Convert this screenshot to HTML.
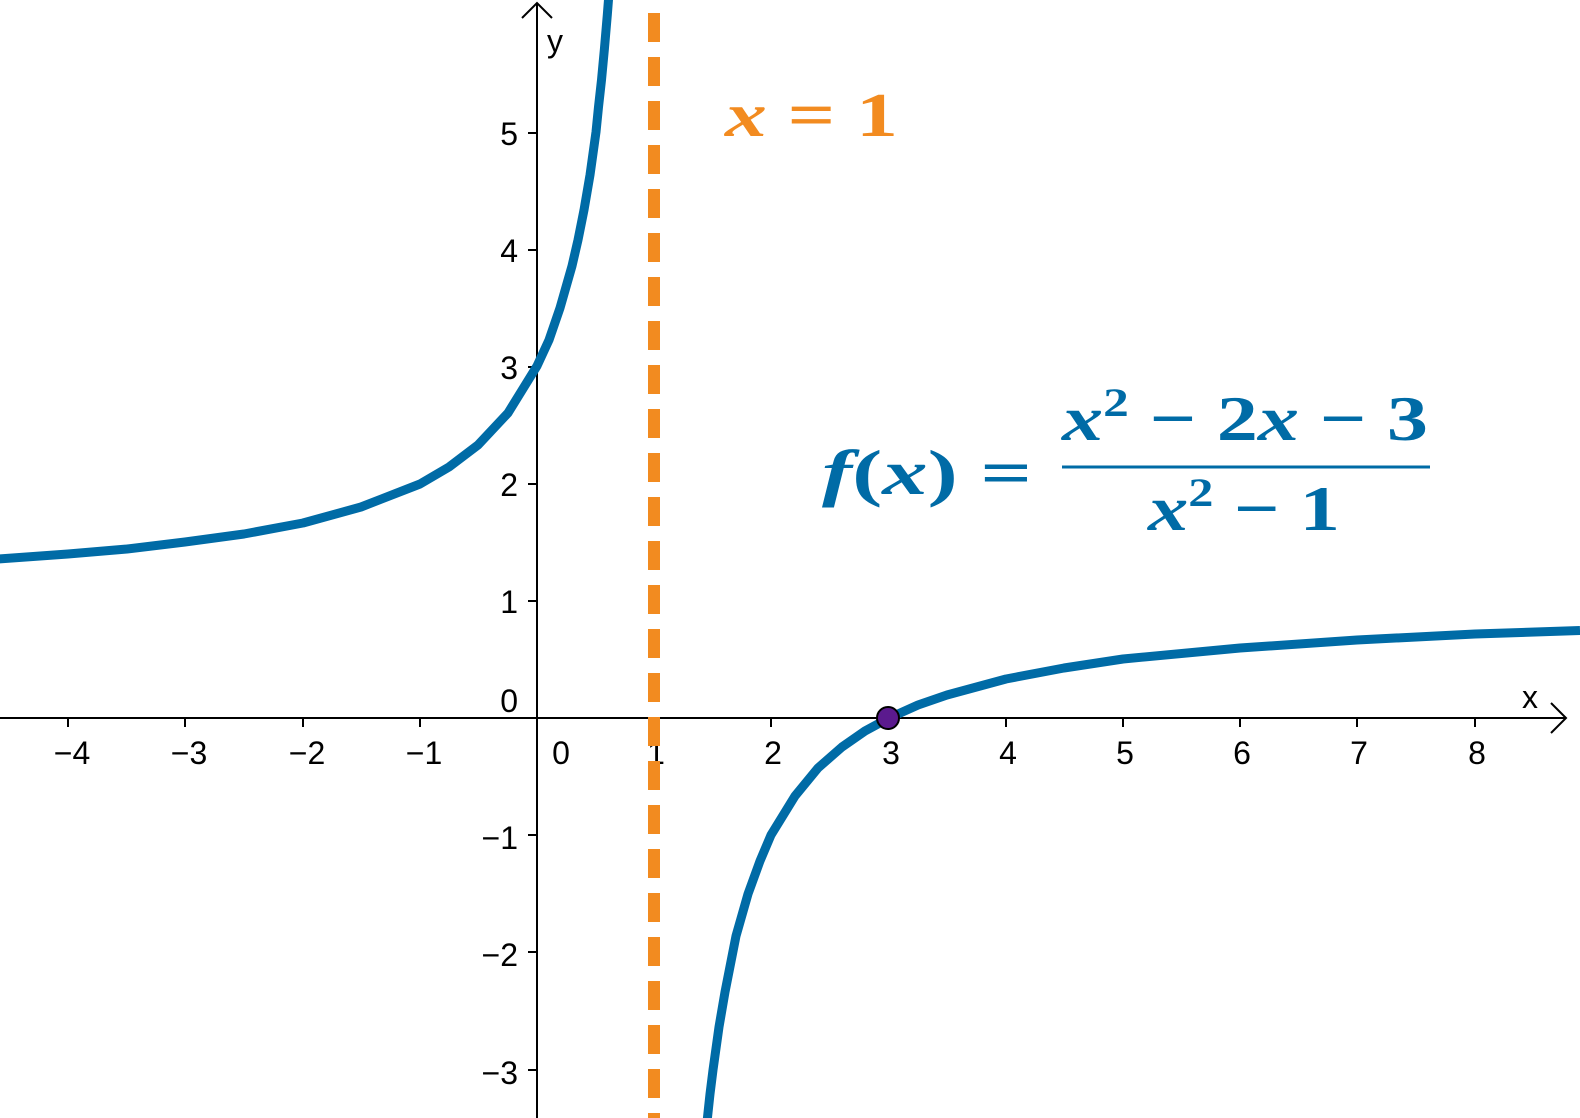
<!DOCTYPE html>
<html><head><meta charset="utf-8"><style>html,body{margin:0;padding:0;background:#fff}svg{display:block}</style></head><body>
<svg width="1580" height="1118" viewBox="0 0 1580 1118" xmlns="http://www.w3.org/2000/svg">
<rect width="1580" height="1118" fill="#fff"/>
<g stroke="#000" stroke-width="2" fill="none">
<line x1="0" y1="718" x2="1566" y2="718"/>
<line x1="537" y1="1118" x2="537" y2="3"/>
<polyline points="1551,703 1566,718 1551,733"/>
<polyline points="522,18 537,3 552,18"/>
<g>
<line x1="68" y1="718" x2="68" y2="727"/><line x1="185" y1="718" x2="185" y2="727"/><line x1="303" y1="718" x2="303" y2="727"/><line x1="420" y1="718" x2="420" y2="727"/><line x1="654" y1="718" x2="654" y2="727"/><line x1="771" y1="718" x2="771" y2="727"/><line x1="889" y1="718" x2="889" y2="727"/><line x1="1006" y1="718" x2="1006" y2="727"/><line x1="1123" y1="718" x2="1123" y2="727"/><line x1="1240" y1="718" x2="1240" y2="727"/><line x1="1357" y1="718" x2="1357" y2="727"/><line x1="1475" y1="718" x2="1475" y2="727"/>
<line x1="528" y1="133" x2="537" y2="133"/><line x1="528" y1="250" x2="537" y2="250"/><line x1="528" y1="367" x2="537" y2="367"/><line x1="528" y1="484" x2="537" y2="484"/><line x1="528" y1="601" x2="537" y2="601"/><line x1="528" y1="835" x2="537" y2="835"/><line x1="528" y1="952" x2="537" y2="952"/><line x1="528" y1="1070" x2="537" y2="1070"/>
</g></g>
<g font-family="Liberation Sans, sans-serif" font-size="32" fill="#000">
<g text-anchor="middle">
<text x="72" y="764">−4</text><text x="189" y="764">−3</text><text x="307" y="764">−2</text><text x="424" y="764">−1</text><text x="561" y="764">0</text><text x="656" y="764">1</text><text x="773" y="764">2</text><text x="891" y="764">3</text><text x="1008" y="764">4</text><text x="1125" y="764">5</text><text x="1242" y="764">6</text><text x="1359" y="764">7</text><text x="1477" y="764">8</text>
</g>
<g text-anchor="end">
<text x="518" y="145">5</text><text x="518" y="262">4</text><text x="518" y="379">3</text><text x="518" y="496">2</text><text x="518" y="613">1</text><text x="518" y="712">0</text><text x="518" y="849">−1</text><text x="518" y="966">−2</text><text x="518" y="1084">−3</text>
</g>
<text x="547" y="52">y</text>
<text x="1522" y="708">x</text>
</g>
<line x1="654" y1="13" x2="654" y2="1118" stroke="#f28b20" stroke-width="12" stroke-dasharray="29 15"/>
<g fill="none" stroke="#006ba6" stroke-width="9" stroke-linejoin="round" stroke-linecap="butt">
<polyline points="-2,559 68,554 127,549 185,542 244,534 303,523 361,507 420,484 449,467 478,445 508,413 537,366 549,340 560,308 572,266 578,240 584,210 590,175 596,132 598.5,107 601.5,80 604.4,49 607.3,15 609.1,-8"/>
<polyline points="707,1122 710,1094 713,1070 719,1027 725,992 736,936 748,894 760,861 771,835 795,796 818,768 842,747 865,731 889,718 918,705 947,695 1006,679 1064,668 1123,659 1240,648 1357,640 1475,634 1580,630.5"/>
</g>
<circle cx="888" cy="718" r="11" fill="#5b1a8e" stroke="#000" stroke-width="2"/>
<g font-family="Liberation Serif, serif" font-weight="bold" fill="#f28b20" font-size="62">
<text x="725" y="136" textLength="173" lengthAdjust="spacingAndGlyphs"><tspan font-style="italic">x</tspan> = 1</text>
</g>
<g font-family="Liberation Serif, serif" font-weight="bold" fill="#006ba6" font-size="64">
<text x="822" y="494" textLength="210" lengthAdjust="spacingAndGlyphs"><tspan font-style="italic">f</tspan>(<tspan font-style="italic">x</tspan>) =</text>
<text x="1062" y="440" textLength="366" lengthAdjust="spacingAndGlyphs"><tspan font-style="italic">x</tspan><tspan font-size="40" dy="-24">2</tspan><tspan dy="24"> − 2</tspan><tspan font-style="italic">x</tspan> − 3</text>
<line x1="1062" y1="467" x2="1430" y2="467" stroke="#006ba6" stroke-width="3"/>
<text x="1148" y="530" textLength="192" lengthAdjust="spacingAndGlyphs"><tspan font-style="italic">x</tspan><tspan font-size="40" dy="-24">2</tspan><tspan dy="24"> − 1</tspan></text>
</g>
</svg>
</body></html>
